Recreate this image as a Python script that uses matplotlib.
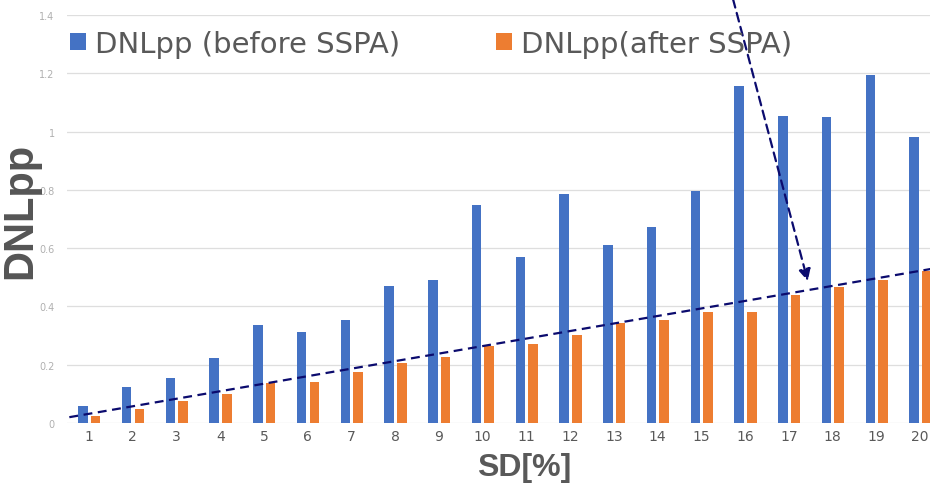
import numpy as np
import matplotlib
matplotlib.use("Agg")
import matplotlib.pyplot as plt
from matplotlib import font_manager

# data
sd = list(range(1, 21))
dnl_before = [0.06, 0.125, 0.155, 0.224, 0.335, 0.313, 0.353, 0.469, 0.49, 0.748,
              0.571, 0.786, 0.611, 0.672, 0.795, 1.157, 1.052, 1.05, 1.194, 0.981]
dnl_after = [0.025, 0.048, 0.077, 0.10, 0.136, 0.14, 0.176, 0.206, 0.228, 0.265,
             0.271, 0.303, 0.342, 0.353, 0.38, 0.38, 0.439, 0.468, 0.492, 0.523]
y_ticks = [0, 0.2, 0.4, 0.6, 0.8, 1.0, 1.2, 1.4]
y_tick_labels = ["0", "0.2", "0.4", "0.6", "0.8", "1", "1.2", "1.4"]

# hand drawn annotations (dashed trend + dashed arrow)
trend_x = [0.55, 20.3]
trend_y = [0.02, 0.53]
arrow_from = (15.72, 1.455)
arrow_to = (17.43, 0.487)

blue = "#4472C4"
orange = "#ED7D31"
navy = "#0b0b6e"
grey = "#595959"

fig = plt.figure(figsize=(9.3, 4.89), dpi=100)
ax = fig.add_axes([0.0722, 0.1329, 0.9408, 0.8344])

x = np.array(sd)
w = 0.22
b1 = ax.bar(x - 0.14, dnl_before, width=w, color=blue, zorder=3, label="DNLpp (before SSPA)")
b2 = ax.bar(x + 0.15, dnl_after, width=w, color=orange, zorder=3, label="DNLpp(after SSPA)")

ax.set_xlim(0.5, 20.5)
ax.set_ylim(0, 1.4)
ax.set_yticks(y_ticks)
ax.set_yticklabels(y_tick_labels)
ax.set_xticks(x)
ax.set_xticklabels([str(s) for s in sd])
ax.tick_params(axis="y", length=0, pad=9, labelsize=7, labelcolor="#b0b0b0")
ax.tick_params(axis="x", length=0, pad=4, labelsize=10, labelcolor=grey)
for s in ax.spines.values():
    s.set_visible(False)
ax.grid(axis="y", color="#dedede", lw=0.9, zorder=0)
ax.set_axisbelow(True)

# trend line
ax.plot(trend_x, trend_y, color=navy, lw=1.6, ls=(0, (4, 2.5)), zorder=5, clip_on=False)

# arrow
ax.annotate("", xy=arrow_to, xytext=arrow_from, annotation_clip=False,
            arrowprops=dict(arrowstyle="-|>,head_length=0.7,head_width=0.35",
                            color=navy, lw=1.6, ls=(0, (4, 2.5)),
                            shrinkA=0, shrinkB=0), zorder=6)

# axis labels
fig.text(40 / 930, 1 - 211 / 489, "DNLpp", rotation=90, ha="right", va="center",
         fontsize=30, fontweight="bold", family="Liberation Sans", color="#555555",
         zorder=10)

names = {f.name for f in font_manager.fontManager.ttflist}
if "Liberation Sans Narrow" in names:
    fig.text(524 / 930, 1 - 468 / 489, "SD[%]", ha="center", va="center",
             fontsize=26, fontweight="bold", family="Liberation Sans Narrow", color=grey)
else:
    fig.text(524 / 930, 1 - 468 / 489, "SD[%]", ha="center", va="center",
             fontsize=23, fontweight="bold", family="Liberation Sans", color=grey)

leg = fig.legend(handles=[b1, b2], loc="center left", bbox_to_anchor=(70 / 930, 1 - 45 / 489),
                 ncol=2, frameon=False, fontsize=21, handlelength=0.55, handleheight=0.55,
                 handletextpad=0.3, columnspacing=3.3, borderpad=0, borderaxespad=0)
for t in leg.get_texts():
    t.set_color(grey)

fig.savefig("out.png", dpi=100)
